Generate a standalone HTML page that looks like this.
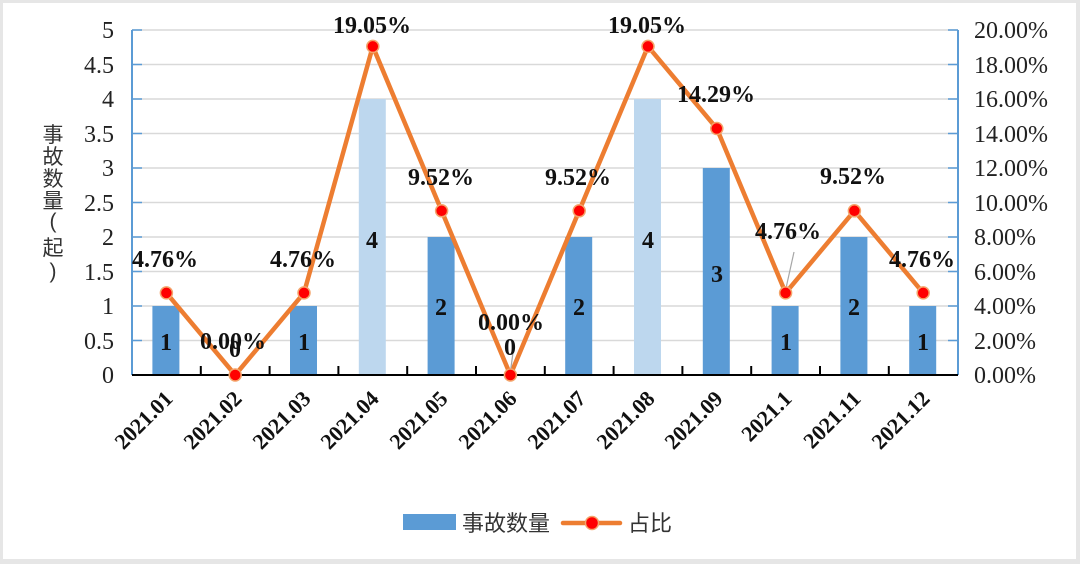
<!DOCTYPE html>
<html><head><meta charset="utf-8"><style>
html,body{margin:0;padding:0;background:#fff;}
svg{display:block;}
</style></head><body>
<svg width="1080" height="564" viewBox="0 0 1080 564" xmlns="http://www.w3.org/2000/svg">
<rect x="0" y="0" width="1080" height="564" fill="#e6e6e6"/>
<rect x="3" y="3" width="1073" height="556" fill="#fff"/>
<g stroke="#d9d9d9" stroke-width="1.5">
<line x1="132" y1="30" x2="958" y2="30"/><line x1="132" y1="64.5" x2="958" y2="64.5"/>
<line x1="132" y1="99" x2="958" y2="99"/><line x1="132" y1="133.5" x2="958" y2="133.5"/>
<line x1="132" y1="168" x2="958" y2="168"/><line x1="132" y1="202.5" x2="958" y2="202.5"/>
<line x1="132" y1="237" x2="958" y2="237"/><line x1="132" y1="271.5" x2="958" y2="271.5"/>
<line x1="132" y1="306" x2="958" y2="306"/><line x1="132" y1="340.5" x2="958" y2="340.5"/>
</g>
<g>
<rect x="152.4" y="306" width="27" height="69" fill="#5b9bd5"/>
<rect x="290" y="306" width="27" height="69" fill="#5b9bd5"/>
<rect x="358.8" y="99" width="27" height="276" fill="#bdd7ee"/>
<rect x="427.6" y="237" width="27" height="138" fill="#5b9bd5"/>
<rect x="565.2" y="237" width="27" height="138" fill="#5b9bd5"/>
<rect x="634" y="99" width="27" height="276" fill="#bdd7ee"/>
<rect x="702.8" y="168" width="27" height="207" fill="#5b9bd5"/>
<rect x="771.6" y="306" width="27" height="69" fill="#5b9bd5"/>
<rect x="840.4" y="237" width="27" height="138" fill="#5b9bd5"/>
<rect x="909.2" y="306" width="27" height="69" fill="#5b9bd5"/>
</g>
<g stroke="#5b9bd5" stroke-width="2">
<line x1="132" y1="30" x2="132" y2="375"/>
<line x1="958" y1="30" x2="958" y2="375"/>
</g>
<g stroke="#5b9bd5" stroke-width="1.5">
<line x1="132" y1="30" x2="142" y2="30"/><line x1="132" y1="64.5" x2="142" y2="64.5"/><line x1="132" y1="99" x2="142" y2="99"/><line x1="132" y1="133.5" x2="142" y2="133.5"/><line x1="132" y1="168" x2="142" y2="168"/><line x1="132" y1="202.5" x2="142" y2="202.5"/><line x1="132" y1="237" x2="142" y2="237"/><line x1="132" y1="271.5" x2="142" y2="271.5"/><line x1="132" y1="306" x2="142" y2="306"/><line x1="132" y1="340.5" x2="142" y2="340.5"/>
<line x1="948" y1="30" x2="958" y2="30"/><line x1="948" y1="64.5" x2="958" y2="64.5"/><line x1="948" y1="99" x2="958" y2="99"/><line x1="948" y1="133.5" x2="958" y2="133.5"/><line x1="948" y1="168" x2="958" y2="168"/><line x1="948" y1="202.5" x2="958" y2="202.5"/><line x1="948" y1="237" x2="958" y2="237"/><line x1="948" y1="271.5" x2="958" y2="271.5"/><line x1="948" y1="306" x2="958" y2="306"/><line x1="948" y1="340.5" x2="958" y2="340.5"/>
</g>
<g stroke="#000" stroke-width="2">
<line x1="132" y1="375" x2="958" y2="375"/>
<line x1="200.8" y1="366" x2="200.8" y2="375"/><line x1="269.6" y1="366" x2="269.6" y2="375"/><line x1="338.4" y1="366" x2="338.4" y2="375"/><line x1="407.2" y1="366" x2="407.2" y2="375"/><line x1="476" y1="366" x2="476" y2="375"/><line x1="544.8" y1="366" x2="544.8" y2="375"/><line x1="613.6" y1="366" x2="613.6" y2="375"/><line x1="682.4" y1="366" x2="682.4" y2="375"/><line x1="751.2" y1="366" x2="751.2" y2="375"/><line x1="820" y1="366" x2="820" y2="375"/><line x1="888.8" y1="366" x2="888.8" y2="375"/>
</g>
<g font-family="Liberation Serif, serif" font-size="24" fill="#222" text-anchor="end">
<text x="114" y="38">5</text><text x="114" y="73">4.5</text><text x="114" y="107">4</text><text x="114" y="142">3.5</text><text x="114" y="176">3</text><text x="114" y="211">2.5</text><text x="114" y="245">2</text><text x="114" y="280">1.5</text><text x="114" y="314">1</text><text x="114" y="349">0.5</text><text x="114" y="383">0</text>
</g>
<g font-family="Liberation Serif, serif" font-size="24" fill="#222">
<text x="974" y="38">20.00%</text><text x="974" y="73">18.00%</text><text x="974" y="107">16.00%</text><text x="974" y="142">14.00%</text><text x="974" y="176">12.00%</text><text x="974" y="211">10.00%</text><text x="974" y="245">8.00%</text><text x="974" y="280">6.00%</text><text x="974" y="314">4.00%</text><text x="974" y="349">2.00%</text><text x="974" y="383">0.00%</text>
</g>
<g font-family="Liberation Sans, 'Noto Sans CJK SC', sans-serif" font-size="21" fill="#333" text-anchor="middle">
<text x="53" y="142">事</text><text x="53" y="164">故</text><text x="53" y="186">数</text><text x="53" y="208">量</text>
<text x="53" y="228">(</text><text x="53" y="255">起</text><text x="53" y="278">)</text>
</g>
<polyline fill="none" stroke="#ed7d31" stroke-width="4.5" stroke-linejoin="round" points="166.4,292.9 235.2,375 304,292.9 372.8,46.4 441.6,210.8 510.4,375 579.2,210.8 648,46.4 716.8,128.5 785.6,292.9 854.4,210.8 923.2,292.9"/>
<line x1="785.6" y1="290" x2="794" y2="252" stroke="#a6a6a6" stroke-width="1.2"/>
<line x1="510.4" y1="372" x2="514" y2="345" stroke="#a6a6a6" stroke-width="1.2"/>
<g fill="#ff0000" stroke="#f4a46a" stroke-width="1.5">
<circle cx="166.4" cy="292.9" r="6"/><circle cx="235.2" cy="375" r="6"/><circle cx="304" cy="292.9" r="6"/><circle cx="372.8" cy="46.4" r="6"/><circle cx="441.6" cy="210.8" r="6"/><circle cx="510.4" cy="375" r="6"/><circle cx="579.2" cy="210.8" r="6"/><circle cx="648" cy="46.4" r="6"/><circle cx="716.8" cy="128.5" r="6"/><circle cx="785.6" cy="292.9" r="6"/><circle cx="854.4" cy="210.8" r="6"/><circle cx="923.2" cy="292.9" r="6"/>
</g>
<g font-family="Liberation Serif, serif" font-size="24" font-weight="bold" fill="#111" text-anchor="middle">
<text x="166" y="350">1</text><text x="235" y="357">0</text><text x="304" y="350">1</text><text x="372" y="248">4</text><text x="441" y="315">2</text><text x="510" y="355">0</text><text x="579" y="315">2</text><text x="648" y="248">4</text><text x="717" y="282">3</text><text x="786" y="350">1</text><text x="854" y="315">2</text><text x="923" y="350">1</text>
</g>
<g font-family="Liberation Serif, serif" font-size="24" font-weight="bold" fill="#111" text-anchor="middle">
<text x="165" y="267">4.76%</text><text x="233" y="349">0.00%</text><text x="303" y="267">4.76%</text><text x="372" y="33">19.05%</text><text x="441" y="185">9.52%</text><text x="511" y="330">0.00%</text><text x="578" y="185">9.52%</text><text x="647" y="33">19.05%</text><text x="716" y="102">14.29%</text><text x="788" y="239">4.76%</text><text x="853" y="184">9.52%</text><text x="922" y="267">4.76%</text>
</g>
<g font-family="Liberation Serif, serif" font-size="22" font-weight="bold" fill="#111" text-anchor="end">
<text transform="translate(174,400) rotate(-45)">2021.01</text>
<text transform="translate(243,400) rotate(-45)">2021.02</text>
<text transform="translate(312,400) rotate(-45)">2021.03</text>
<text transform="translate(380,400) rotate(-45)">2021.04</text>
<text transform="translate(449,400) rotate(-45)">2021.05</text>
<text transform="translate(518,400) rotate(-45)">2021.06</text>
<text transform="translate(587,400) rotate(-45)">2021.07</text>
<text transform="translate(656,400) rotate(-45)">2021.08</text>
<text transform="translate(724,400) rotate(-45)">2021.09</text>
<text transform="translate(793,400) rotate(-45)">2021.1</text>
<text transform="translate(862,400) rotate(-45)">2021.11</text>
<text transform="translate(931,400) rotate(-45)">2021.12</text>
</g>
<rect x="403" y="514" width="53" height="16" fill="#5b9bd5"/>
<text x="462" y="531" font-family="Liberation Sans, 'Noto Sans CJK SC', sans-serif" font-size="22" fill="#333">事故数量</text>
<line x1="563" y1="523" x2="620" y2="523" stroke="#ed7d31" stroke-width="4.5" stroke-linecap="round"/>
<circle cx="592" cy="523" r="6.5" fill="#ff0000" stroke="#f4a46a" stroke-width="1.5"/>
<text x="628" y="531" font-family="Liberation Sans, 'Noto Sans CJK SC', sans-serif" font-size="22" fill="#333">占比</text>
</svg>
</body></html>
